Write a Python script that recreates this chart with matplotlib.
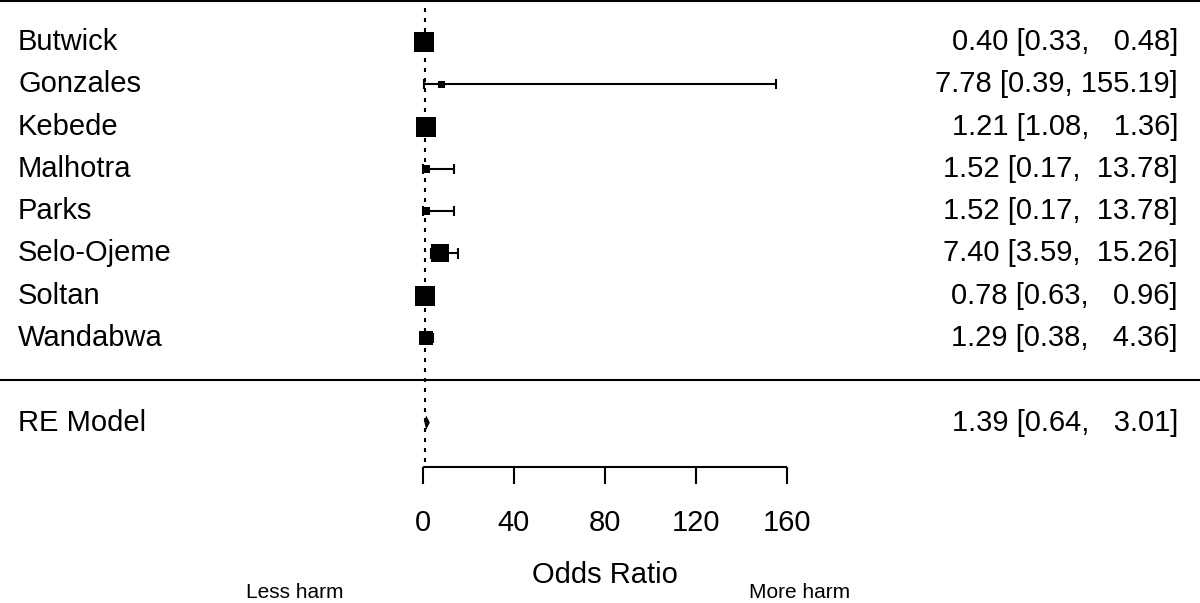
import matplotlib
matplotlib.use("Agg")
import matplotlib.pyplot as plt
import matplotlib.transforms as mtransforms

# ---- data ----
studies = ["Butwick", "Gonzales", "Kebede", "Malhotra", "Parks",
           "Selo-Ojeme", "Soltan", "Wandabwa"]
odds_ratio = [0.40, 7.78, 1.21, 1.52, 1.52, 7.40, 0.78, 1.29]
ci_lower = [0.33, 0.39, 1.08, 0.17, 0.17, 3.59, 0.63, 0.38]
ci_upper = [0.48, 155.19, 1.36, 13.78, 13.78, 15.26, 0.96, 4.36]
weights = [20.4, 3.0, 19.1, 4.3, 4.3, 17.4, 19.1, 12.4]   # estimated (%)
re_label = "RE Model"
re_est, re_lb, re_ub = 1.39, 0.64, 3.01
xticks = [0, 40, 80, 120, 160]
xlabel = "Odds Ratio"
left_note = "Less harm"
right_note = "More harm"

plt.rcParams['font.family'] = ['Liberation Sans', 'DejaVu Sans']

fig = plt.figure(figsize=(12, 6.03), dpi=100)
ax = fig.add_axes([0, 0, 1, 1])
ax.set_xlim(-185.93, 341.54)
ax.set_ylim(-5.266, 8.993)
ax.axis('off')

LW = 1.5
k = len(studies)
rows = list(range(k, 0, -1))
re_row = -1
trans = mtransforms.blended_transform_factory(ax.transAxes, ax.transData)

# horizontal rules
ax.plot([0, 1], [8.97, 8.97], transform=trans, color='black', lw=LW, solid_capstyle='butt')
ax.plot([0, 1], [0, 0], transform=trans, color='black', lw=LW, solid_capstyle='butt')

# reference line at OR = 1
ax.plot([1, 1], [-1.93, 9.0], color='black', lw=LW, linestyle=(0, (1.9, 2.9)))

# study CIs and squares
wmin, wmax = min(weights), max(weights)
cap = 0.12
fs = 21
for y, name, est, lb, ub, w in zip(rows, studies, odds_ratio, ci_lower, ci_upper, weights):
    ax.plot([lb, ub], [y, y], color='black', lw=LW, solid_capstyle='butt')
    ax.plot([lb, lb], [y - cap, y + cap], color='black', lw=LW, solid_capstyle='butt')
    ax.plot([ub, ub], [y - cap, y + cap], color='black', lw=LW, solid_capstyle='butt')
    size_px = 7 + (w - wmin) / (wmax - wmin) * 13
    ax.plot([est], [y], marker='s', color='black', markersize=size_px * 0.72,
            markeredgewidth=0, linestyle='none')
    ax.text(0.015, y, name, transform=trans, ha='left', va='center', fontsize=fs)
    ax.text(0.9817, y, f"{est:.2f} [{lb:.2f}, {ub:6.2f}]", transform=trans,
            ha='right', va='center', fontsize=fs)

# RE model diamond
h = 0.17
ax.fill([re_lb, re_est, re_ub, re_est], [re_row, re_row + h, re_row, re_row - h],
        color='black', lw=0)
ax.text(0.015, re_row, re_label, transform=trans, ha='left', va='center', fontsize=fs)
ax.text(0.9817, re_row, f"{re_est:.2f} [{re_lb:.2f}, {re_ub:6.2f}]", transform=trans,
        ha='right', va='center', fontsize=fs)

# x axis
ay = -2.05
ax.plot([xticks[0], xticks[-1]], [ay, ay], color='black', lw=LW, solid_capstyle='butt')
for t in xticks:
    ax.plot([t, t], [ay, ay - 0.4], color='black', lw=LW, solid_capstyle='butt')
    ax.text(t, -3.37, str(t), ha='center', va='center', fontsize=fs)
ax.text((xticks[0] + xticks[-1]) / 2, -4.6, xlabel, ha='center', va='center', fontsize=fs)
ax.text(0.246, -5.15, left_note, transform=trans, ha='center', va='baseline', fontsize=15)
ax.text(0.666, -5.15, right_note, transform=trans, ha='center', va='baseline', fontsize=15)

fig.savefig("out.png", dpi=100)
